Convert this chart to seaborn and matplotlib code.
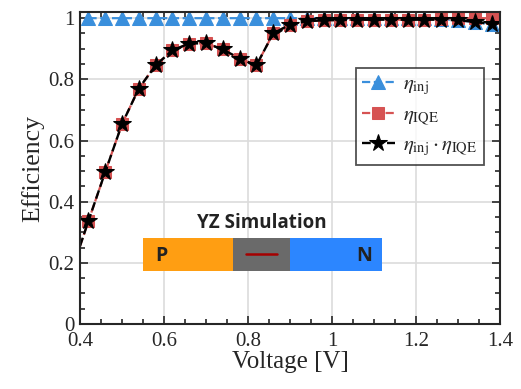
import numpy as np
import pandas as pd
import matplotlib.pyplot as plt
import seaborn as sns
from matplotlib.ticker import MultipleLocator
from matplotlib.patches import Rectangle

sns.set_style('ticks')
plt.rcParams['font.family'] = ['Liberation Serif', 'DejaVu Serif']
plt.rcParams['mathtext.fontset'] = 'stix'

# voltages, first point is the left edge (line only, no marker)
voltage = [0.40, 0.42, 0.46, 0.50, 0.54, 0.58, 0.62, 0.66, 0.70, 0.74, 0.78, 0.82, 0.86, 0.90,
           0.94, 0.98, 1.02, 1.06, 1.10, 1.14, 1.18, 1.22, 1.26, 1.30, 1.34, 1.38]
eta_inj = [1.0, 1.0, 1.0, 1.0, 1.0, 1.0, 1.0, 1.0, 1.0, 1.0, 1.0, 1.0, 1.0, 1.0,
           1.0, 1.0, 1.0, 1.0, 1.0, 1.0, 1.0, 1.0, 0.997, 0.993, 0.988, 0.98]
eta_iqe = [0.255, 0.337, 0.497, 0.654, 0.770, 0.846, 0.895, 0.917, 0.918, 0.898, 0.868, 0.846, 0.950, 0.979,
           0.990, 0.993, 0.994, 0.995, 0.995, 0.995, 0.995, 0.995, 0.998, 1.0, 1.0, 1.0]
eta_total = [a * b for a, b in zip(eta_inj, eta_iqe)]

marks = list(range(1, len(voltage)))

c_inj = '#3a8fdc'
c_iqe = '#d65353'

fig = plt.figure(figsize=(5.21, 3.89), dpi=100)
ax = fig.add_axes([0.1536, 0.167, 0.806, 0.802])

sns.lineplot(x=voltage[1:], y=eta_inj[1:], ax=ax, color=c_inj, linestyle='--', lw=1.6,
             marker='^', markersize=10, markeredgecolor=c_inj, label=r'$\eta_{\rm inj}$')
sns.lineplot(x=voltage, y=eta_iqe, ax=ax, color=c_iqe, linestyle='--', lw=1.6,
             marker='s', markersize=8.5, markeredgecolor=c_iqe, markevery=marks,
             label=r'$\eta_{\rm IQE}$')
sns.lineplot(x=voltage, y=eta_total, ax=ax, color='black', linestyle='--', lw=1.7,
             marker='*', markersize=13, markeredgecolor='black', markevery=marks,
             label=r'$\eta_{\rm inj}\cdot\eta_{\rm IQE}$')

ax.set_xlim(0.4, 1.4)
ax.set_ylim(0, 1.02)
ax.set_xticks([0.4, 0.6, 0.8, 1.0, 1.2, 1.4])
ax.set_xticklabels(['0.4', '0.6', '0.8', '1', '1.2', '1.4'])
ax.set_yticks([0, 0.2, 0.4, 0.6, 0.8, 1.0])
ax.set_yticklabels(['0', '0.2', '0.4', '0.6', '0.8', '1'])
ax.xaxis.set_minor_locator(MultipleLocator(0.05))
ax.yaxis.set_minor_locator(MultipleLocator(0.05))
ax.tick_params(which='both', direction='in', top=True, right=True, labelsize=15, width=1.2, colors='#262626')
ax.tick_params(which='major', length=6)
ax.tick_params(which='minor', length=3.5)
ax.tick_params(axis='x', pad=6)
ax.tick_params(axis='y', pad=4)
ax.grid(True, which='major', color='#dcdcdc', lw=1.2)
ax.set_axisbelow(True)
for s in ax.spines.values():
    s.set_linewidth(1.5)
    s.set_color('#262626')
ax.set_xlabel('Voltage [V]', fontsize=18, labelpad=0)
ax.set_ylabel('Efficiency', fontsize=18.5, labelpad=3)

leg = ax.legend(loc='upper right', bbox_to_anchor=(0.962, 0.82), fontsize=15, frameon=True,
                fancybox=False, edgecolor='#262626', handlelength=1.6, handletextpad=0.4,
                borderpad=0.3, labelspacing=0.42, borderaxespad=0)
leg.get_frame().set_linewidth(1.3)

# device sketch inset
ins = ax.inset_axes([0.15, 0.17, 0.568, 0.107])
ins.set_xlim(0, 1)
ins.set_ylim(0, 1)
ins.axis('off')
ins.add_patch(Rectangle((0, 0), 0.377, 1, color='#ff9e12', lw=0))
ins.add_patch(Rectangle((0.377, 0), 0.238, 1, color='#6a6a6a', lw=0))
ins.add_patch(Rectangle((0.615, 0), 0.385, 1, color='#2c86ff', lw=0))
ins.plot([0.43, 0.56], [0.5, 0.5], color='#a50000', lw=1.8)
ins.text(0.05, 0.45, 'P', fontsize=14, fontweight='bold', family=['Open Sans', 'DejaVu Sans'],
         color='#222222', va='center', ha='left')
ins.text(0.96, 0.45, 'N', fontsize=14, fontweight='bold', family=['Open Sans', 'DejaVu Sans'],
         color='#222222', va='center', ha='right')
ins.text(0.5, 1.45, 'YZ Simulation', fontsize=13.5, fontweight='bold', family=['Open Sans', 'DejaVu Sans'],
         color='#222222', va='center', ha='center')

fig.savefig('out.png', dpi=100)
